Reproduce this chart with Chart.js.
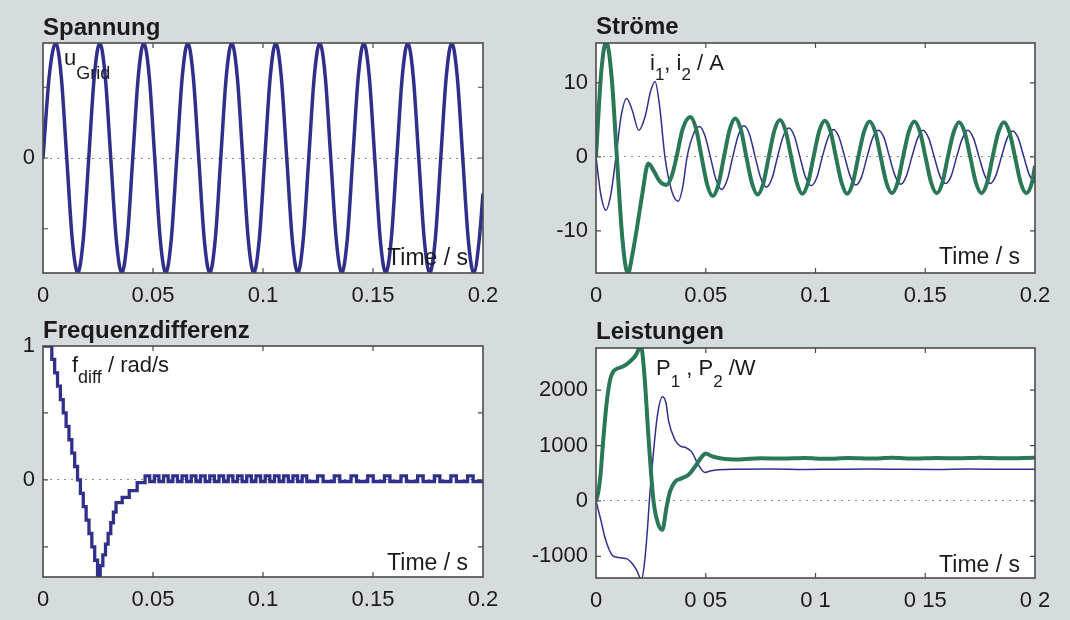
<!DOCTYPE html>
<html lang="de">
<head>
<meta charset="utf-8">
<title>Spannung, Ströme, Frequenzdifferenz, Leistungen</title>
<script src="https://cdn.jsdelivr.net/npm/chart.js@4.4.1/dist/chart.umd.min.js"></script>
<style>
    body {
        margin: 0;
        width: 1070px;
        height: 620px;
        overflow: hidden;
        position: relative;
        background: #d6dbdd;
    }
    .panel {
        position: absolute;
        height: 310px;
    }
</style>
</head>
<body>
<div class="panel" style="left:0;top:0;width:535px"><canvas id="chartU" width="535" height="310"></canvas></div>
<div class="panel" style="left:510px;top:0;width:560px"><canvas id="chartI" width="560" height="310"></canvas></div>
<div class="panel" style="left:0;top:310px;width:535px"><canvas id="chartF" width="535" height="310"></canvas></div>
<div class="panel" style="left:510px;top:310px;width:560px"><canvas id="chartP" width="560" height="310"></canvas></div>

<script>
/* ========================================
   Data
   ======================================== */

// Time axis
const timeTicks = [0, 0.05, 0.1, 0.15, 0.2];
const timeLabels = ['0', '0.05', '0.1', '0.15', '0.2'];
const timeLabelsP = ['0', '0 05', '0 1', '0 15', '0 2'];

// Spannung - u_Grid / V
const uGridT = [
    0, 0.0029,
    0.0058, 0.0083, 0.0108, 0.0133, 0.0158, 0.0183, 0.0208, 0.0233,
    0.0258, 0.0283, 0.0308, 0.0333, 0.0358, 0.0383, 0.0408, 0.0433,
    0.0458, 0.0483, 0.0508, 0.0533, 0.0558, 0.0583, 0.0608, 0.0633,
    0.0658, 0.0683, 0.0708, 0.0733, 0.0758, 0.0783, 0.0808, 0.0833,
    0.0858, 0.0883, 0.0908, 0.0933, 0.0958, 0.0983, 0.1008, 0.1033,
    0.1058, 0.1083, 0.1108, 0.1133, 0.1158, 0.1183, 0.1208, 0.1233,
    0.1258, 0.1283, 0.1308, 0.1333, 0.1358, 0.1383, 0.1408, 0.1433,
    0.1458, 0.1483, 0.1508, 0.1533, 0.1558, 0.1583, 0.1608, 0.1633,
    0.1658, 0.1683, 0.1708, 0.1733, 0.1758, 0.1783, 0.1808, 0.1833,
    0.1858, 0.1883, 0.1908, 0.1933, 0.1958, 0.1983, 0.2
];
const uGridV = [
    0, 235,
    325, 230, 0, -230, -325, -230, 0, 230,
    325, 230, 0, -230, -325, -230, 0, 230,
    325, 230, 0, -230, -325, -230, 0, 230,
    325, 230, 0, -230, -325, -230, 0, 230,
    325, 230, 0, -230, -325, -230, 0, 230,
    325, 230, 0, -230, -325, -230, 0, 230,
    325, 230, 0, -230, -325, -230, 0, 230,
    325, 230, 0, -230, -325, -230, 0, 230,
    325, 230, 0, -230, -325, -230, 0, 230,
    325, 230, 0, -230, -325, -230, -100
];
const uTicks = [-200, 0, 200];
const uTickLabels = ['', '0', ''];

// Ströme - i1 (thin), i2 (thick) / A
const i1T = [
    0, 0.0022, 0.0045, 0.0068, 0.0091, 0.0115, 0.014, 0.0165, 0.0195, 0.0225,
    0.0248, 0.0269, 0.029, 0.0314, 0.0345, 0.0375, 0.0395, 0.0415, 0.0443,
    0.047, 0.0496, 0.0521, 0.0547, 0.0572, 0.0598, 0.0623, 0.0649,
    0.0674, 0.07, 0.0725, 0.0751, 0.0776, 0.0802, 0.0827, 0.0853,
    0.0878, 0.0904, 0.0929, 0.0955, 0.098, 0.1006, 0.1031, 0.1057,
    0.1082, 0.1108, 0.1133, 0.1159, 0.1184, 0.121, 0.1235, 0.1261,
    0.1286, 0.1312, 0.1337, 0.1363, 0.1388, 0.1414, 0.1439, 0.1465,
    0.149, 0.1516, 0.1541, 0.1567, 0.1592, 0.1618, 0.1643, 0.1669,
    0.1694, 0.172, 0.1745, 0.1771, 0.1796, 0.1822, 0.1847, 0.1873,
    0.1898, 0.1924, 0.1949, 0.1975, 0.2
];
const i1V = [
    0, -5.1, -7.2, -5.0, 0, 5.6, 7.9, 6.3, 3.6, 5.6,
    8.8, 10.2, 6.8, 0, -4.6, -6.0, -4.1, 0, 3.0,
    4.1, 2.9, 0, -3.1, -4.4, -3.1, 0, 3.0,
    4.2, 3.0, 0, -2.9, -4.1, -2.9, 0, 2.8,
    3.9, 2.8, 0, -2.8, -3.9, -2.8, 0, 2.6,
    3.7, 2.6, 0, -2.7, -3.8, -2.7, 0, 2.6,
    3.6, 2.6, 0, -2.6, -3.7, -2.6, 0, 2.5,
    3.6, 2.5, 0, -2.6, -3.6, -2.6, 0, 2.5,
    3.6, 2.5, 0, -2.5, -3.6, -2.5, 0, 2.5,
    3.5, 2.5, 0, -2.5, -3.5
];
const i2T = [
    0, 0.0024, 0.0047, 0.0072, 0.0095, 0.012, 0.0145, 0.0167, 0.0185, 0.021,
    0.0238, 0.0265, 0.029, 0.032, 0.0345, 0.0367, 0.0395,
    0.043, 0.0456, 0.0481, 0.0507, 0.0532, 0.0558, 0.0583, 0.0609,
    0.0634, 0.066, 0.0685, 0.0711, 0.0736, 0.0762, 0.0787, 0.0813,
    0.0838, 0.0864, 0.0889, 0.0915, 0.094, 0.0966, 0.0991, 0.1017,
    0.1042, 0.1068, 0.1093, 0.1119, 0.1144, 0.117, 0.1195, 0.1221,
    0.1246, 0.1272, 0.1297, 0.1323, 0.1348, 0.1374, 0.1399, 0.1425,
    0.145, 0.1476, 0.1501, 0.1527, 0.1552, 0.1578, 0.1603, 0.1629,
    0.1654, 0.168, 0.1705, 0.1731, 0.1756, 0.1782, 0.1807, 0.1833,
    0.1858, 0.1884, 0.1909, 0.1935, 0.196, 0.1986, 0.2
];
const i2V = [
    0, 11.5, 15.6, 10.5, 0, -11, -15.8, -13, -9.9, -5.2,
    -0.9, -2.0, -3.3, -3.8, -2.6, 0, 3.8,
    5.4, 3.8, 0, -3.8, -5.3, -3.7, 0, 3.7,
    5.2, 3.7, 0, -3.6, -5.1, -3.6, 0, 3.6,
    5.0, 3.5, 0, -3.5, -5.0, -3.5, 0, 3.5,
    4.9, 3.5, 0, -3.5, -5.0, -3.5, 0, 3.4,
    4.8, 3.4, 0, -3.5, -4.9, -3.5, 0, 3.4,
    4.8, 3.4, 0, -3.5, -4.9, -3.5, 0, 3.3,
    4.7, 3.3, 0, -3.5, -4.9, -3.5, 0, 3.3,
    4.7, 3.3, 0, -3.5, -4.9, -3.5, -1.2
];
const iTicks = [-10, 0, 10];
const iTickLabels = ['-10', '0', '10'];

// Frequenzdifferenz - f_diff / rad/s (stepped, value holds from t until next t)
const fdiffT = [
    0, 0.004, 0.0053, 0.0066, 0.0079, 0.0092, 0.0105, 0.0118, 0.0131, 0.0144,
    0.0157, 0.017, 0.0183, 0.0196, 0.0209, 0.0222, 0.0235, 0.0248,
    0.026, 0.0272, 0.0284, 0.0296, 0.0308, 0.032, 0.0332, 0.036, 0.0392, 0.0428,
    0.0464, 0.0485, 0.0506, 0.0527, 0.0548, 0.0569, 0.059, 0.0611,
    0.0632, 0.0653, 0.0674, 0.0695, 0.0716, 0.0737, 0.0758, 0.0779,
    0.08, 0.0821, 0.0842, 0.0863, 0.0884, 0.0905, 0.0926, 0.0947,
    0.0968, 0.0989, 0.101, 0.1031, 0.1052, 0.1073, 0.1094, 0.1115,
    0.1136, 0.1157, 0.1178, 0.1199,
    0.1248, 0.1273, 0.1324, 0.1349, 0.14, 0.1425, 0.1476, 0.1501,
    0.1552, 0.1577, 0.1627, 0.1652, 0.1703, 0.1728, 0.1779, 0.1804,
    0.1854, 0.1879, 0.193, 0.1955, 0.2
];
const fdiffV = [
    1.0, 0.9, 0.8, 0.7, 0.6, 0.5, 0.4, 0.3, 0.2, 0.1,
    0.0, -0.1, -0.2, -0.3, -0.4, -0.5, -0.6, -0.72,
    -0.64, -0.56, -0.48, -0.4, -0.32, -0.24, -0.17, -0.13, -0.08, -0.02,
    0.03, -0.012, 0.03, -0.012, 0.03, -0.012, 0.03, -0.012,
    0.03, -0.012, 0.03, -0.012, 0.03, -0.012, 0.03, -0.012,
    0.03, -0.012, 0.03, -0.012, 0.03, -0.012, 0.03, -0.012,
    0.03, -0.012, 0.03, -0.012, 0.03, -0.012, 0.03, -0.012,
    0.03, -0.012, 0.03, -0.012,
    0.03, -0.012, 0.03, -0.012, 0.03, -0.012, 0.03, -0.012,
    0.03, -0.012, 0.03, -0.012, 0.03, -0.012, 0.03, -0.012,
    0.03, -0.012, 0.03, -0.012, -0.012
];
const fTicks = [-0.5, 0, 0.5, 1];
const fTickLabels = ['', '0', '', '1'];

// Leistungen - P1 (thin), P2 (thick) / W
const p1T = [
    0, 0.002, 0.004, 0.006, 0.0075, 0.009, 0.012, 0.0139, 0.0165, 0.0185,
    0.0207, 0.022, 0.0235, 0.0243, 0.026, 0.028, 0.0303, 0.032, 0.033, 0.036,
    0.0385, 0.041, 0.0435, 0.046, 0.048, 0.0495, 0.052, 0.056,
    0.065, 0.08, 0.095, 0.11, 0.125, 0.14, 0.155, 0.17, 0.185, 0.2
];
const p1V = [
    0, -310, -650, -880, -985, -1010, -1030, -1040, -1130, -1250,
    -1420, -1150, -480, 0, 800, 1550, 1880, 1750, 1460, 1100,
    990, 960, 890, 700, 565, 515, 540, 562,
    572, 575, 568, 572, 575, 570, 568, 575, 572, 570
];
const p2T = [
    0, 0.001, 0.002, 0.0033, 0.0048, 0.0064, 0.0078, 0.009, 0.012, 0.015,
    0.018, 0.0205, 0.022, 0.024, 0.0262, 0.0282, 0.0302, 0.0322, 0.0337, 0.036,
    0.039, 0.042, 0.0451, 0.0482, 0.05, 0.0527, 0.0572,
    0.065, 0.075, 0.085, 0.095, 0.105, 0.115, 0.125, 0.135, 0.145, 0.155,
    0.165, 0.175, 0.185, 0.2
];
const p2V = [
    0, 150, 450, 1100, 1750, 2180, 2330, 2375, 2420, 2500,
    2620, 2790, 2300, 1100, 0, -400, -520, -100, 168, 348,
    408, 468, 618, 798, 858, 810, 768,
    750, 770, 765, 775, 760, 775, 765, 780, 765, 775,
    770, 780, 770, 780
];
const pTicks = [-1000, 0, 1000, 2000];
const pTickLabels = ['-1000', '0', '1000', '2000'];

/* ========================================
   Styling
   ======================================== */

const BLUE = '#30308c';
const GREEN = '#2b7858';
const FONT = '"Liberation Sans", Arial, Helvetica, sans-serif';

Chart.defaults.font.family = FONT;
Chart.defaults.color = '#1b1b1b';

// Texts drawn around / inside each plot box (x positions relative to chart area left)
const deco = {
    chartU: { title: 'Spannung', titleY: 35, timeDy: 8,
        label: { x: 21, y: 65, subDy: 14, size: 22, subSize: 18, parts: [['u', 0], ['Grid', 1]] } },
    chartI: { title: 'Ströme', titleY: 34, timeDy: 9,
        label: { x: 54, y: 70, subDy: 10, size: 22, subSize: 17, parts: [['i', 0], ['1', 1], [', i', 0], ['2', 1], [' / A', 0]] } },
    chartF: { title: 'Frequenzdifferenz', titleY: 28, timeDy: 7,
        label: { x: 29, y: 62, subDy: 11, size: 22, subSize: 18, parts: [['f', 0], ['diff', 1], [' / rad/s', 0]] } },
    chartP: { title: 'Leistungen', titleY: 29, timeDy: 6,
        label: { x: 60, y: 65, subDy: 12, size: 22, subSize: 17, parts: [['P', 0], ['1', 1], [' , P', 0], ['2', 1], [' /W', 0]] } }
};

// White plot box, frame with inward ticks, titles and labels
const panelFrame = {
    id: 'panelFrame',
    beforeDraw(chart) {
        const { ctx, chartArea: a } = chart;
        ctx.save();
        ctx.fillStyle = '#ffffff';
        ctx.fillRect(a.left, a.top, a.right - a.left, a.bottom - a.top);
        ctx.restore();
    },
    afterDraw(chart) {
        const { ctx, chartArea: a, scales } = chart;
        const d = deco[chart.canvas.id];
        ctx.save();

        // inward tick marks on all four sides
        ctx.strokeStyle = '#4a4a4a';
        ctx.lineWidth = 1.2;
        ctx.beginPath();
        scales.x.ticks.forEach(t => {
            const px = scales.x.getPixelForValue(t.value);
            if (px <= a.left + 1 || px >= a.right - 1) return;
            ctx.moveTo(px, a.bottom); ctx.lineTo(px, a.bottom - 5);
            ctx.moveTo(px, a.top); ctx.lineTo(px, a.top + 5);
        });
        scales.y.ticks.forEach(t => {
            const py = scales.y.getPixelForValue(t.value);
            if (py <= a.top + 1 || py >= a.bottom - 1) return;
            ctx.moveTo(a.left, py); ctx.lineTo(a.left + 5, py);
            ctx.moveTo(a.right, py); ctx.lineTo(a.right - 5, py);
        });
        ctx.stroke();

        // frame
        ctx.lineWidth = 1.6;
        ctx.strokeRect(a.left, a.top, a.right - a.left, a.bottom - a.top);

        // title
        ctx.fillStyle = '#1b1b1b';
        ctx.textBaseline = 'alphabetic';
        ctx.textAlign = 'left';
        ctx.font = 'bold 24px ' + FONT;
        ctx.fillText(d.title, a.left, d.titleY);

        // quantity label with subscripts
        let x = a.left + d.label.x;
        d.label.parts.forEach(([text, sub]) => {
            ctx.font = (sub ? d.label.subSize : d.label.size) + 'px ' + FONT;
            ctx.fillText(text, x, d.label.y + (sub ? d.label.subDy : 0));
            x += ctx.measureText(text).width;
        });

        // time axis hint
        ctx.font = '23px ' + FONT;
        ctx.textAlign = 'right';
        ctx.fillText('Time / s', a.right - 15, a.bottom - d.timeDy);
        ctx.restore();
    }
};

function points(T, V) {
    return T.map((t, i) => ({ x: t, y: V[i] }));
}

function line(T, V, color, width, extra) {
    return Object.assign({
        data: points(T, V),
        borderColor: color,
        borderWidth: width,
        pointRadius: 0,
        fill: false,
        cubicInterpolationMode: 'monotone',
        clip: 0
    }, extra || {});
}

function makePanel(id, cfg) {
    return new Chart(document.getElementById(id), {
        type: 'line',
        data: { datasets: cfg.datasets },
        options: {
            responsive: false,
            animation: false,
            events: [],
            layout: { padding: cfg.padding },
            plugins: {
                legend: { display: false },
                tooltip: { enabled: false }
            },
            scales: {
                x: {
                    type: 'linear',
                    min: 0,
                    max: 0.2,
                    afterBuildTicks: s => { s.ticks = timeTicks.map(v => ({ value: v })); },
                    afterFit: s => { s.height = cfg.xHeight; },
                    ticks: {
                        autoSkip: false,
                        maxRotation: 0,
                        padding: 2,
                        font: { size: 22 },
                        callback: (v, i) => cfg.xLabels[i]
                    },
                    grid: { display: false },
                    border: { display: false }
                },
                y: {
                    min: cfg.yMin,
                    max: cfg.yMax,
                    afterBuildTicks: s => { s.ticks = cfg.yTicks.map(v => ({ value: v })); },
                    afterFit: s => { s.width = cfg.yWidth; },
                    ticks: {
                        autoSkip: false,
                        padding: 8,
                        font: { size: 22 },
                        callback: (v, i) => cfg.yLabels[i]
                    },
                    grid: {
                        drawTicks: false,
                        lineWidth: 1,
                        color: c => (c.tick && c.tick.value === 0) ? '#8a8a8a' : 'rgba(0,0,0,0)'
                    },
                    border: { display: false, dash: [2, 5] }
                }
            }
        },
        plugins: [panelFrame]
    });
}

makePanel('chartU', {
    datasets: [line(uGridT, uGridV, BLUE, 3.5)],
    padding: { top: 43, right: 52, bottom: 0, left: 0 },
    yWidth: 43, xHeight: 37,
    yMin: -325, yMax: 325, yTicks: uTicks, yLabels: uTickLabels,
    xLabels: timeLabels
});

makePanel('chartI', {
    datasets: [
        line(i2T, i2V, GREEN, 4),
        line(i1T, i1V, BLUE, 1.5)
    ],
    padding: { top: 43, right: 35, bottom: 0, left: 0 },
    yWidth: 86, xHeight: 37,
    yMin: -15.7, yMax: 15.4, yTicks: iTicks, yLabels: iTickLabels,
    xLabels: timeLabels
});

makePanel('chartF', {
    datasets: [line(fdiffT, fdiffV, BLUE, 3.3, { stepped: true, cubicInterpolationMode: 'default' })],
    padding: { top: 36, right: 52, bottom: 0, left: 0 },
    yWidth: 43, xHeight: 43,
    yMin: -0.725, yMax: 1, yTicks: fTicks, yLabels: fTickLabels,
    xLabels: timeLabels
});

makePanel('chartP', {
    datasets: [
        line(p2T, p2V, GREEN, 4),
        line(p1T, p1V, BLUE, 1.5)
    ],
    padding: { top: 38, right: 35, bottom: 0, left: 0 },
    yWidth: 86, xHeight: 42,
    yMin: -1390, yMax: 2760, yTicks: pTicks, yLabels: pTickLabels,
    xLabels: timeLabelsP
});
</script>
</body>
</html>
